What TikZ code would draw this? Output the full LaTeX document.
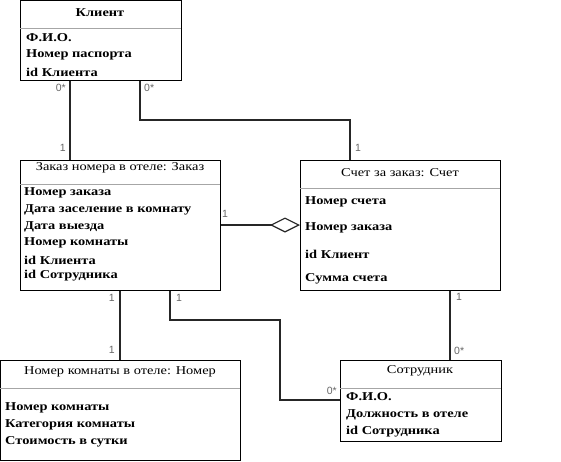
\documentclass[tikz,border=0pt]{standalone}
\usepackage{fontspec}
\setmainfont{Liberation Serif}[FakeStretch=1.2]
\newfontfamily\mulfont{Liberation Sans}
\usetikzlibrary{arrows.meta}
\tikzset{
  classbox/.style={draw,line width=0.8pt,rectangle,inner sep=0pt,anchor=north west},
  sepline/.style={draw=black!35,line width=0.8pt},
  ttl/.style={font=\fontsize{12}{14}\selectfont,inner sep=0pt},
  attr/.style={font=\fontsize{12}{14}\selectfont\bfseries,anchor=west,inner sep=0pt},
  conn/.style={draw=black!85,line width=1.6pt},
  mult/.style={font=\mulfont\fontsize{10.5}{11}\selectfont,text=black!60,inner sep=0pt}
}
\begin{document}
\begin{tikzpicture}[x=1pt,y=-1pt]
	\useasboundingbox (0,0) rectangle (561,461);
	% classes
	\node[classbox,minimum width=161pt,minimum height=80pt] (klient) at (20,0) {};
	\draw[sepline] (20,28) -- (181,28);
	\node[ttl,font=\fontsize{12}{14}\selectfont\bfseries] (klientT) at (100,13) {Клиент};
	\node[attr] (k1) at (26,38) {Ф.И.О.};
	\node[attr] (k2) at (26,55) {Номер паспорта};
	\node[attr] (k3) at (26,72) {id Клиента};

	\node[classbox,minimum width=200pt,minimum height=130pt] (zakaz) at (20,160) {};
	\draw[sepline] (20,184) -- (220,184);
	\node[ttl] (zakazT) at (120,168) {Заказ номера в отеле: Заказ};
	\node[attr] (z1) at (24,193) {Номер заказа};
	\node[attr] (z2) at (24,210) {Дата заселение в комнату};
	\node[attr] (z3) at (24,227) {Дата выезда};
	\node[attr] (z4) at (24,243) {Номер комнаты};
	\node[attr] (z5) at (24,260) {id Клиента};
	\node[attr] (z6) at (24,276) {id Сотрудника};

	\node[classbox,minimum width=200pt,minimum height=130pt] (schet) at (300,160) {};
	\draw[sepline] (300,188) -- (500,188);
	\node[ttl] (schetT) at (400,173) {Счет за заказ: Счет};
	\node[attr] (s1) at (305,202) {Номер счета};
	\node[attr] (s2) at (305,228) {Номер заказа};
	\node[attr] (s3) at (305,254) {id Клиент};
	\node[attr] (s4) at (305,279) {Сумма счета};

	\node[classbox,minimum width=240pt,minimum height=100pt] (nomer) at (0,360) {};
	\draw[sepline] (0,388) -- (240,388);
	\node[ttl] (nomerT) at (120,372) {Номер комнаты в отеле: Номер};
	\node[attr] (n1) at (5,408) {Номер комнаты};
	\node[attr] (n2) at (5,425) {Категория комнаты};
	\node[attr] (n3) at (5,442) {Стоимость в сутки};

	\node[classbox,minimum width=161pt,minimum height=81pt] (sotr) at (340,360) {};
	\draw[sepline] (340,388) -- (501,388);
	\node[ttl] (sotrT) at (420,371) {Сотрудник};
	\node[attr] (p1) at (346,397) {Ф.И.О.};
	\node[attr] (p2) at (346,415) {Должность в отеле};
	\node[attr] (p3) at (346,432) {id Сотрудника};

	% connectors
	\draw[conn] (70,0 |- klient.south) -- (70,0 |- zakaz.north);
	\draw[conn] (140,0 |- klient.south) -- (140,120) -- (350,120) -- (350,0 |- schet.north);
	\draw[conn,-{Diamond[open,length=30pt,width=15pt,line width=1.2pt]}] (zakaz.east |- 0,225) -- (schet.west |- 0,225);
	\draw[conn] (120,0 |- zakaz.south) -- (120,0 |- nomer.north);
	\draw[conn] (170,0 |- zakaz.south) -- (170,320) -- (280,320) -- (280,400) -- (sotr.west |- 0,400);
	\draw[conn] (450,0 |- schet.south) -- (450,0 |- sotr.north);

	% multiplicities
	\node[mult,anchor=east] (m1) at (66,88) {0*};
	\node[mult,anchor=east] (m2) at (66,148) {1};
	\node[mult,anchor=west] (m3) at (144,88) {0*};
	\node[mult,anchor=west] (m4) at (355,148) {1};
	\node[mult,anchor=west] (m5) at (222,214) {1};
	\node[mult,anchor=east] (m6) at (115,298) {1};
	\node[mult,anchor=east] (m7) at (115,350) {1};
	\node[mult,anchor=west] (m8) at (176,298) {1};
	\node[mult,anchor=east] (m9) at (337,391) {0*};
	\node[mult,anchor=west] (m10) at (456,297) {1};
	\node[mult,anchor=west] (m11) at (454,351) {0*};
\end{tikzpicture}
\end{document}
